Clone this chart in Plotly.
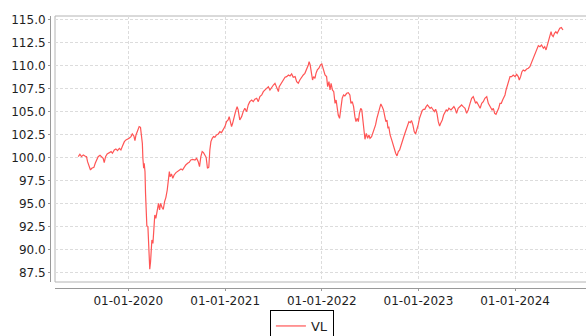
import plotly.graph_objects as go

# Daily valuation index (VL), sampled from the series
dates = [
    "2019-06-26", "2019-07-02", "2019-07-08", "2019-07-15", "2019-07-21", "2019-07-27", "2019-07-31",
    "2019-08-05", "2019-08-11", "2019-08-16", "2019-08-24", "2019-08-29", "2019-09-03", "2019-09-09",
    "2019-09-16", "2019-09-22", "2019-09-28", "2019-10-02", "2019-10-07", "2019-10-13", "2019-10-21",
    "2019-10-28", "2019-11-02", "2019-11-09", "2019-11-15", "2019-11-21", "2019-11-28", "2019-12-04",
    "2019-12-10", "2019-12-17", "2019-12-23", "2019-12-29", "2020-01-04", "2020-01-11", "2020-01-16",
    "2020-01-22", "2020-01-26", "2020-01-30", "2020-02-05", "2020-02-11", "2020-02-16", "2020-02-20",
    "2020-02-23", "2020-02-25", "2020-02-28", "2020-03-01", "2020-03-04", "2020-03-06", "2020-03-09",
    "2020-03-11", "2020-03-15", "2020-03-17", "2020-03-20", "2020-03-22", "2020-03-25", "2020-03-27",
    "2020-03-30", "2020-04-03", "2020-04-07", "2020-04-10", "2020-04-14", "2020-04-19", "2020-04-24",
    "2020-04-28", "2020-05-02", "2020-05-07", "2020-05-12", "2020-05-17", "2020-05-22", "2020-05-27",
    "2020-05-31", "2020-06-04", "2020-06-07", "2020-06-12", "2020-06-17", "2020-06-22", "2020-06-29",
    "2020-07-05", "2020-07-11", "2020-07-18", "2020-07-24", "2020-07-30", "2020-08-05", "2020-08-12",
    "2020-08-18", "2020-08-24", "2020-08-31",
    "2020-09-09", "2020-09-15", "2020-09-21", "2020-09-26", "2020-10-01", "2020-10-06", "2020-10-11",
    "2020-10-16", "2020-10-21", "2020-10-26", "2020-10-31", "2020-11-04", "2020-11-08", "2020-11-13",
    "2020-11-18", "2020-11-23", "2020-11-29", "2020-12-06", "2020-12-12", "2020-12-18", "2020-12-25",
    "2020-12-31", "2021-01-06", "2021-01-12", "2021-01-16", "2021-01-21", "2021-01-25", "2021-01-29",
    "2021-02-03", "2021-02-09", "2021-02-15", "2021-02-19", "2021-02-25", "2021-03-04", "2021-03-10",
    "2021-03-16", "2021-03-23", "2021-03-29", "2021-04-04", "2021-04-11", "2021-04-17", "2021-04-23",
    "2021-04-30", "2021-05-06", "2021-05-12", "2021-05-19", "2021-05-25", "2021-05-31", "2021-06-06",
    "2021-06-13", "2021-06-19", "2021-06-25", "2021-07-02", "2021-07-08", "2021-07-14", "2021-07-21",
    "2021-07-24", "2021-07-31", "2021-08-05", "2021-08-10", "2021-08-15", "2021-08-21", "2021-08-28",
    "2021-09-03", "2021-09-09", "2021-09-15", "2021-09-22", "2021-09-28", "2021-10-04", "2021-10-10",
    "2021-10-17", "2021-10-23", "2021-10-29", "2021-11-04", "2021-11-11", "2021-11-14", "2021-11-18",
    "2021-11-23", "2021-11-27", "2021-12-01", "2021-12-06", "2021-12-10", "2021-12-15", "2021-12-21",
    "2021-12-27", "2022-01-01", "2022-01-06", "2022-01-13",
    "2022-01-19", "2022-01-23", "2022-01-28", "2022-02-01", "2022-02-05", "2022-02-10", "2022-02-15",
    "2022-02-20", "2022-02-24", "2022-03-01", "2022-03-04", "2022-03-09", "2022-03-14", "2022-03-19",
    "2022-03-24", "2022-03-29", "2022-04-05", "2022-04-11", "2022-04-17", "2022-04-21", "2022-04-26",
    "2022-05-01", "2022-05-06", "2022-05-10", "2022-05-15", "2022-05-19", "2022-05-23", "2022-05-28",
    "2022-06-01", "2022-06-04", "2022-06-09", "2022-06-13", "2022-06-18", "2022-06-23", "2022-06-28",
    "2022-07-02", "2022-07-08", "2022-07-14", "2022-07-18", "2022-07-23", "2022-07-28", "2022-08-02",
    "2022-08-07", "2022-08-12", "2022-08-17", "2022-08-22", "2022-08-27", "2022-08-31", "2022-09-04",
    "2022-09-08", "2022-09-11", "2022-09-16", "2022-09-22", "2022-09-27", "2022-10-02", "2022-10-07",
    "2022-10-12", "2022-10-17", "2022-10-22", "2022-10-27", "2022-11-01", "2022-11-06", "2022-11-11",
    "2022-11-16", "2022-11-21", "2022-11-26", "2022-12-01", "2022-12-06", "2022-12-11", "2022-12-16",
    "2022-12-21", "2022-12-26", "2022-12-31", "2023-01-05", "2023-01-10", "2023-01-15", "2023-01-20",
    "2023-01-25", "2023-01-30", "2023-02-04", "2023-02-09", "2023-02-14", "2023-02-19", "2023-02-24",
    "2023-03-02", "2023-03-07", "2023-03-12", "2023-03-17", "2023-03-22", "2023-03-27", "2023-04-01",
    "2023-04-06", "2023-04-11", "2023-04-16", "2023-04-21", "2023-04-26",
    "2023-05-04", "2023-05-10", "2023-05-15", "2023-05-20", "2023-05-25", "2023-05-31", "2023-06-07",
    "2023-06-13", "2023-06-19", "2023-06-26", "2023-07-02", "2023-07-08", "2023-07-15", "2023-07-21",
    "2023-07-27", "2023-07-31", "2023-08-05", "2023-08-09", "2023-08-15", "2023-08-22", "2023-08-28",
    "2023-09-03", "2023-09-09", "2023-09-16", "2023-09-22", "2023-09-26", "2023-10-01", "2023-10-06",
    "2023-10-11", "2023-10-16", "2023-10-21", "2023-10-26", "2023-10-31", "2023-11-05", "2023-11-10",
    "2023-11-15", "2023-11-20", "2023-11-24", "2023-11-28", "2023-12-03", "2023-12-08", "2023-12-13",
    "2023-12-19", "2023-12-25", "2024-01-01", "2024-01-07", "2024-01-13", "2024-01-17", "2024-01-22",
    "2024-01-27", "2024-02-01", "2024-02-07", "2024-02-14", "2024-02-20", "2024-02-26", "2024-03-02",
    "2024-03-07", "2024-03-12", "2024-03-17", "2024-03-22", "2024-03-29", "2024-04-04", "2024-04-10",
    "2024-04-17", "2024-04-22", "2024-04-27", "2024-05-02", "2024-05-07", "2024-05-12", "2024-05-16",
    "2024-05-19", "2024-05-24", "2024-05-29", "2024-06-03", "2024-06-08", "2024-06-13", "2024-06-18",
    "2024-06-24", "2024-06-30",
]

vl = [
    100.14, 100.40, 100.14, 100.33, 100.22, 100.14, 99.60,
    99.06, 98.70, 98.88, 98.98, 99.42, 99.71, 100.14,
    100.29, 100.14, 99.96, 99.49, 100.14, 100.43, 100.58,
    100.69, 100.51, 100.87, 100.98, 100.80, 101.05, 100.87,
    101.30, 101.77, 101.96, 102.03, 102.14, 102.32, 102.61,
    102.39, 101.88, 102.50, 103.04, 103.41, 103.33, 102.50,
    101.59, 99.96, 98.88, 99.42, 98.51, 96.16, 93.98,
    92.61, 92.54, 90.72, 89.28, 87.90, 88.73, 90.72,
    91.08, 90.72, 92.90, 93.80, 93.44, 94.35, 95.07,
    94.35, 95.07, 94.64, 94.42, 95.25, 95.72, 96.52,
    97.61, 98.51, 97.97, 98.26, 97.79, 98.15, 98.41,
    98.51, 98.70, 98.80, 98.70, 99.06, 99.24, 99.42,
    99.53, 99.78, 99.85,
    99.78, 99.96, 99.60, 99.06, 100.15, 100.69, 100.58,
    100.22, 100.07, 98.88, 98.99, 100.87, 101.78, 102.14,
    102.32, 102.25, 102.50, 102.61, 102.86, 102.75, 103.04,
    103.41, 103.95, 104.13, 104.49, 103.95, 103.41, 103.77,
    104.49, 105.04, 105.58, 105.22, 104.13, 104.49, 105.04,
    105.40, 105.04, 105.76, 106.12, 106.30, 106.12, 106.38,
    106.49, 106.12, 106.67, 106.85, 107.21, 107.39, 107.46,
    107.75, 107.39, 107.68, 107.93, 108.12, 107.75, 107.21,
    107.75, 108.12, 108.30, 108.55, 108.77, 108.84, 109.02,
    108.91, 109.13, 108.77, 108.84, 108.30, 108.12, 108.48,
    108.84, 109.02, 109.20, 109.57, 110.11, 110.47, 110.11,
    109.20, 108.48, 108.84, 108.66, 109.20, 109.57, 109.75,
    110.11, 110.22, 109.57, 109.02,
    108.84, 107.75, 108.30, 107.39, 108.12, 107.39, 107.21,
    105.94, 106.30, 105.40, 104.67, 104.31, 105.22, 106.49,
    106.85, 106.74, 107.03, 107.10, 106.85, 105.94, 106.12,
    105.58, 104.49, 103.95, 104.31, 103.95, 104.85, 105.40,
    105.22, 104.49, 102.86, 102.03, 102.68, 102.14, 102.50,
    102.14, 102.32, 102.86, 103.04, 103.59, 104.31, 104.85,
    105.22, 105.87, 105.58, 105.22, 104.49, 103.95, 104.13,
    103.22, 103.41, 102.50, 101.96, 101.41, 100.87, 100.51,
    100.22, 100.69, 100.87, 101.41, 101.96, 102.25, 102.68,
    103.04, 103.59, 103.95, 103.84, 104.06, 103.59, 102.86,
    102.61, 103.04, 103.59, 104.31, 104.85, 105.14, 105.29,
    105.29, 105.58, 105.76, 105.58, 105.40, 105.51, 105.22,
    105.04, 105.29, 104.85, 103.95, 103.48, 103.84, 104.13,
    104.67, 105.04, 105.22, 105.11, 105.40,
    105.22, 105.47, 105.58, 105.33, 104.85, 105.40, 105.58,
    105.76, 105.58, 105.40, 104.85, 105.22, 105.94, 106.49,
    106.67, 106.30, 105.94, 106.12, 105.76, 105.40, 105.94,
    106.12, 106.49, 106.67, 105.94, 105.76, 105.58, 105.22,
    105.40, 104.85, 104.74, 105.04, 105.40, 105.94, 105.94,
    106.30, 106.67, 106.85, 107.39, 107.93, 108.30, 108.84,
    108.84, 109.02, 108.84, 109.09, 108.84, 108.48, 108.84,
    109.38, 109.56, 109.46, 109.67, 109.75, 109.93, 110.29,
    110.83, 111.19, 111.56, 111.92, 112.21, 112.10, 112.28,
    111.92, 112.10, 111.74, 112.28, 112.83, 113.37, 113.73,
    113.37, 113.19, 113.55, 113.73, 113.55, 113.91, 114.09,
    114.17, 113.91,
]

year_ticks = ["2020-01-01", "2021-01-01", "2022-01-01", "2023-01-01", "2024-01-01"]
x_range = ["2019-03-30", "2024-09-25"]
y_range = [86.52, 115.43]

tick_font = dict(family="DejaVu Sans", size=12, color="#1e1e1e")
grid_color = "#dcdcdc"
axis_color = "#999999"

fig = go.Figure()
fig.add_trace(go.Scatter(
    x=dates, y=vl, mode="lines", name="VL",
    line=dict(color="#ff5555", width=1.2),
))

fig.update_layout(
    width=586, height=336,
    margin=dict(l=50, r=0, t=16, b=48),
    paper_bgcolor="white", plot_bgcolor="white",
    showlegend=True,
    legend=dict(
        orientation="h",
        xref="paper", x=0.47, xanchor="center",
        yref="container", y=26 / 336, yanchor="top",
        bordercolor="#000000", borderwidth=1,
        font=dict(family="DejaVu Sans", size=13, color="#1e1e1e"),
        itemwidth=30,
    ),
    xaxis=dict(
        type="date", range=x_range, domain=[5 / 536, 1],
        anchor="free", position=0,
        tickvals=year_ticks, tickformat="%d-%m-%Y",
        tickfont=tick_font, ticks="outside", ticklen=2, tickcolor=axis_color,
        showline=True, linecolor=axis_color, linewidth=1,
        showgrid=True, gridcolor=grid_color, griddash="3px,2px", gridwidth=1,
        zeroline=False,
    ),
    yaxis=dict(
        range=y_range, domain=[6 / 272, 1],
        anchor="free", position=0,
        tick0=87.5, dtick=2.5, tickformat=".1f",
        tickfont=tick_font, ticks="outside", ticklen=2, tickcolor=axis_color,
        showline=True, linecolor=axis_color, linewidth=1,
        showgrid=True, gridcolor=grid_color, griddash="3px,2px", gridwidth=1,
        zeroline=False,
    ),
)

# Plot-area outline (open on the right side)
fig.add_shape(
    type="rect", xref="x domain", yref="y domain",
    x0=0, x1=1.02, y0=0, y1=1,
    line=dict(color="#b4b4b4", width=1), layer="below",
)

fig.write_html("out.html")
